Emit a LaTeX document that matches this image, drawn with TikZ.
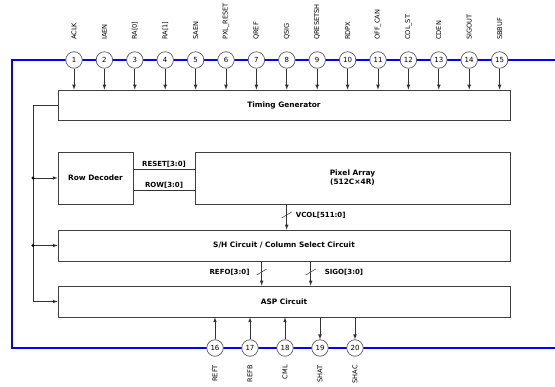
\documentclass[tikz,border=0pt]{standalone}
\usepackage{fontspec}
\setmainfont{DejaVu Sans}
\usepackage{tikz}
\usetikzlibrary{arrows}

\begin{document}
\begin{tikzpicture}[x=1pt,y=-1pt]
    	\tikzstyle{pin}=[circle, draw=black!65, fill=white, line width=0.7pt, minimum size=16.5pt, inner sep=0pt, font=\fontsize{7}{8}\selectfont]
    	\tikzstyle{block}=[draw=black!75, fill=white, line width=0.7pt, minimum height=31pt, font=\fontsize{7.4}{9}\selectfont\bfseries]
    	\tikzstyle{sig}=[draw=black!80, line width=0.7pt, ->, >=latex]
    	\tikzstyle{pinlab}=[rotate=90, inner sep=0pt, font=\fontsize{6.6}{7}\selectfont]
    	\tikzstyle{buslab}=[inner sep=1pt, font=\fontsize{7}{8}\selectfont\bfseries]

    	\useasboundingbox (0,0) rectangle (555,387);

    	% Supply ring
    	\draw[blue, line width=1.2pt] (555,60) -- (12,60) -- (12,348) -- (555,348);

    	% Blocks
    	\node[block, minimum width=452pt, minimum height=30pt] at (284,105) (tg) {Timing Generator};
    	\node[block, minimum width=75pt, minimum height=52pt] at (95.5,178) (rowdec) {Row Decoder};
    	\node[block, minimum width=315pt, minimum height=52pt, align=center] at (352.5,178) (pixarr) {Pixel Array\\(512C×4R)};
    	\node[block, minimum width=452pt] at (284,245.5) (sh) {S/H Circuit / Column Select Circuit};
    	\node[block, minimum width=452pt] at (284,301.5) (asp) {ASP Circuit};

    	% Top pins
    	\foreach \n/\lab in {1/ACLK,2/IAEN,3/RA[0],4/RA[1],5/SAEN,6/PXL\_RESET,7/QREF,8/QSIG,9/QRESETSH,10/RDPX,11/OFF\_CAN,12/COL\_ST,13/CDEN,14/SIGOUT,15/SBBUF}
    	{
    		\node[pin] at (74+\n*30.4-30.4, 60) (pin_\n) {\n};
    		\node[pinlab, anchor=west] at ([yshift=20pt]pin_\n.center) {\lab};
    		\draw[sig] (pin_\n) -- (pin_\n |- tg.north);
    	}

    	% Bottom pins
    	\foreach \n/\lab in {16/REFT,17/REFB,18/CML,19/SHAT,20/SHAC}
    	{
    		\node[pin] at (215+\n*35-16*35, 348) (pin_\n) {\n};
    		\node[pinlab, anchor=east] at ([yshift=-17pt]pin_\n.center) {\lab};
    	}
    	\foreach \n in {16,17,18}
    		\draw[sig] (pin_\n) -- (pin_\n |- asp.south);
    	\foreach \n in {19,20}
    		\draw[sig] (pin_\n |- asp.south) -- (pin_\n);

    	% Control bus on the left
    	\coordinate (bus) at (33,0);
    	\draw[sig] (tg.west) -| (bus |- asp.west) -- (asp.west);
    	\draw[sig] (bus |- rowdec.west) -- (rowdec.west);
    	\draw[sig] (bus |- sh.west) -- (sh.west);
    	\fill (bus |- rowdec.west) circle (1.6pt);
    	\fill (bus |- sh.west) circle (1.6pt);

    	% Row decoder -> Pixel array
    	\draw[draw=black!80, line width=0.7pt] ([yshift=9pt]rowdec.east) -- node[buslab, above] {RESET[3:0]} ([yshift=9pt]pixarr.west);
    	\draw[draw=black!80, line width=0.7pt] ([yshift=-12pt]rowdec.east) -- node[buslab, above] {ROW[3:0]} ([yshift=-12pt]pixarr.west);

    	% Pixel array -> S/H
    	\coordinate (vcoltop) at ([xshift=92pt]pixarr.south west);
    	\draw[sig] (vcoltop) -- coordinate[pos=0.42] (vcol) (vcoltop |- sh.north);
    	\draw[black!70, line width=0.6pt] (vcol) ++(-5,3) -- ++(10,-6);
    	\node[buslab, anchor=west] at ([xshift=8pt]vcol) {VCOL[511:0]};

    	% S/H -> ASP
    	\coordinate (refotop) at ([xshift=204pt]sh.south west);
    	\draw[sig] (refotop) -- coordinate[pos=0.44] (refo) (refotop |- asp.north);
    	\draw[black!70, line width=0.6pt] (refo) ++(-5,3) -- ++(10,-6);
    	\node[buslab, anchor=east] at ([xshift=-11pt]refo) {REFO[3:0]};

    	\coordinate (sigotop) at ([xshift=253pt]sh.south west);
    	\draw[sig] (sigotop) -- coordinate[pos=0.44] (sigo) (sigotop |- asp.north);
    	\draw[black!70, line width=0.6pt] (sigo) ++(-5,3) -- ++(10,-6);
    	\node[buslab, anchor=west] at ([xshift=13pt]sigo) {SIGO[3:0]};

\end{tikzpicture}
\end{document}
